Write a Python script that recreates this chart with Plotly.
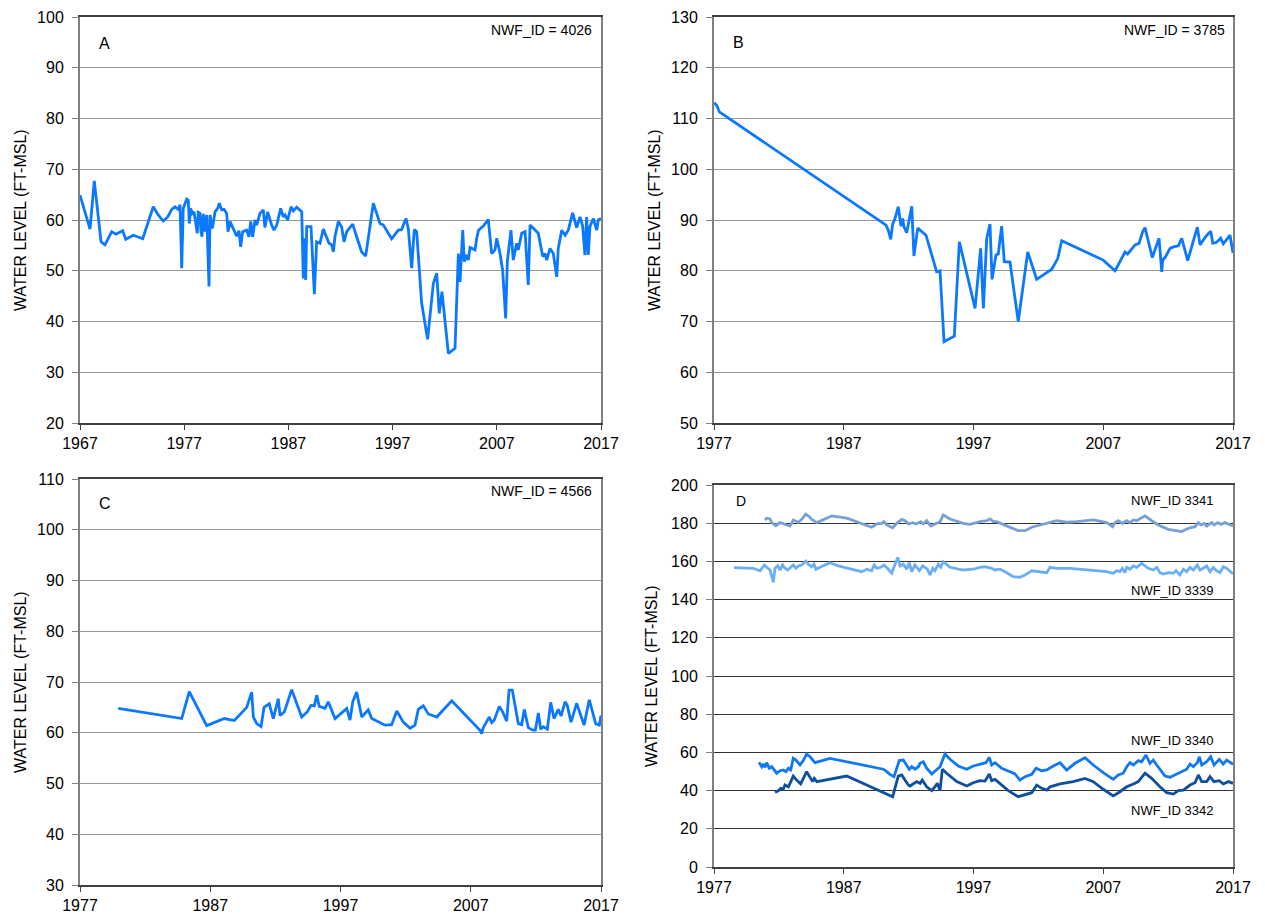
import plotly.graph_objects as go

# ---------------- Panel A (NWF_ID = 4026) ----------------
a_year = [1967.00, 1967.96, 1968.37, 1969.02, 1969.40, 1970.04, 1970.43, 1971.10, 1971.39, 1972.12,
          1973.02, 1973.33, 1974.03, 1974.51, 1974.99, 1975.42, 1975.80, 1976.12, 1976.43, 1976.60,
          1976.76, 1976.91, 1977.24, 1977.39, 1977.49, 1977.62, 1977.78, 1977.94, 1978.26, 1978.35,
          1978.52, 1978.61, 1978.71, 1978.83, 1979.00, 1979.16, 1979.38, 1979.48, 1979.70, 1979.96,
          1980.21, 1980.37, 1980.60, 1980.82, 1981.08, 1981.20, 1981.40, 1981.71, 1982.04, 1982.26,
          1982.42, 1982.61, 1982.99, 1983.22, 1983.38, 1983.57, 1983.80, 1983.96, 1984.27, 1984.59,
          1984.75, 1985.01, 1985.39, 1985.62, 1985.88, 1986.26, 1986.51, 1986.67, 1986.93, 1987.25,
          1987.47, 1987.80, 1988.28, 1988.43, 1988.52, 1988.66, 1988.76, 1989.17, 1989.49, 1989.71,
          1990.03, 1990.35, 1990.68, 1990.90, 1991.16, 1991.31, 1991.47, 1991.79, 1992.11, 1992.34,
          1992.60, 1993.17, 1993.55, 1994.03, 1994.42, 1994.76, 1995.15, 1995.47, 1995.79, 1996.11,
          1996.91, 1997.55, 1997.87, 1998.03, 1998.29, 1998.51, 1998.83, 1999.08, 1999.31, 1999.79,
          2000.36, 2000.91, 2001.23, 2001.48, 2001.74, 2002.35, 2002.99, 2003.31, 2003.47, 2003.73,
          2003.88, 2004.11, 2004.27, 2004.43, 2004.91, 2005.07, 2005.25, 2005.70, 2006.18, 2006.51,
          2006.83, 2006.99, 2007.31, 2007.56, 2007.85, 2008.01, 2008.36, 2008.58, 2008.91, 2009.06,
          2009.39, 2009.71, 2010.02, 2010.19, 2010.35, 2010.67, 2010.98, 2011.41, 2011.63, 2011.79,
          2012.11, 2012.42, 2012.75, 2012.90, 2013.23, 2013.55, 2013.86, 2014.28, 2014.66, 2014.99,
          2015.24, 2015.46, 2015.62, 2015.78, 2015.94, 2016.26, 2016.59, 2016.74, 2017.00]
a_level = [64.9, 58.2, 67.7, 55.7, 55.1, 57.7, 57.2, 57.9, 56.2, 57.0,
           56.3, 58.3, 62.6, 61.0, 59.8, 60.6, 62.1, 62.6, 62.1, 63.0,
           50.5, 62.3, 64.1, 63.9, 59.3, 62.3, 61.3, 61.6, 57.4, 61.5,
           61.3, 57.7, 56.7, 61.2, 57.7, 61.0, 46.9, 61.0, 58.3, 61.6,
           62.3, 63.3, 62.0, 62.1, 61.3, 57.7, 59.7, 58.3, 56.8, 57.9,
           54.7, 57.7, 58.0, 56.7, 59.7, 56.7, 60.0, 59.0, 61.3, 62.0,
           58.5, 61.6, 59.0, 58.0, 59.0, 62.3, 60.6, 61.0, 60.0, 62.6,
           61.8, 62.5, 61.6, 48.5, 56.4, 48.2, 58.7, 58.7, 45.4, 55.7,
           55.4, 58.2, 56.7, 55.4, 55.1, 53.7, 56.7, 59.7, 58.6, 55.7,
           57.7, 59.2, 56.7, 53.7, 52.9, 58.0, 63.3, 61.3, 59.3, 59.0,
           56.3, 58.0, 58.1, 59.0, 60.3, 58.3, 50.5, 58.1, 57.7, 43.6,
           36.5, 47.5, 49.5, 41.6, 45.9, 33.7, 34.7, 53.4, 47.8, 58.0,
           51.8, 53.1, 52.1, 54.6, 54.1, 56.4, 58.0, 58.8, 60.1, 53.4,
           54.1, 56.4, 53.4, 50.1, 40.6, 51.8, 58.0, 52.1, 55.4, 54.1,
           57.4, 57.7, 47.2, 59.0, 58.7, 58.0, 57.4, 52.8, 53.4, 52.1,
           54.4, 53.4, 48.8, 54.4, 58.0, 57.0, 58.0, 61.4, 58.5, 60.6,
           58.8, 53.1, 60.6, 53.1, 58.7, 60.3, 58.0, 60.0, 60.3]

# ---------------- Panel B (NWF_ID = 3785) ----------------
b_year = [1977.00, 1977.21, 1977.41, 1990.26, 1990.43, 1990.62, 1990.77, 1990.95, 1991.20, 1991.41,
          1991.54, 1991.64, 1991.85, 1992.24, 1992.41, 1992.70, 1993.34, 1993.78, 1994.16, 1994.42,
          1994.73, 1995.52, 1995.91, 1997.12, 1997.55, 1997.76, 1998.02, 1998.27, 1998.43, 1998.73,
          1998.91, 1999.17, 1999.37, 1999.81, 2000.45, 2001.18, 2001.87, 2003.03, 2003.49, 2003.80,
          2007.00, 2007.91, 2008.68, 2008.88, 2009.45, 2009.76, 2010.04, 2010.22, 2010.78, 2011.30,
          2011.51, 2011.58, 2011.76, 2012.15, 2012.40, 2012.79, 2013.05, 2013.51, 2013.87, 2014.25,
          2014.46, 2014.92, 2015.28, 2015.44, 2015.74, 2016.05, 2016.25, 2016.77, 2017.00]
b_level = [113.1, 112.6, 111.3, 89.0, 88.0, 86.2, 89.2, 90.3, 92.6, 88.8,
           90.3, 88.7, 87.5, 92.7, 82.9, 88.4, 87.0, 83.4, 79.8, 80.0,
           66.0, 67.1, 85.7, 72.6, 84.4, 72.6, 86.4, 89.2, 78.3, 83.1,
           83.3, 88.8, 81.8, 81.7, 70.0, 83.7, 78.3, 80.3, 82.4, 85.9,
           82.1, 80.0, 83.7, 83.3, 85.1, 85.4, 87.7, 88.5, 82.6, 86.4,
           79.8, 82.1, 82.6, 84.4, 84.7, 84.9, 86.4, 82.0, 85.1, 88.6,
           85.1, 86.8, 87.8, 85.4, 85.6, 86.4, 85.3, 87.0, 83.5]

# ---------------- Panel C (NWF_ID = 4566) ----------------
c_year = [1979.94, 1984.81, 1985.39, 1986.73, 1988.08, 1988.85, 1989.80, 1990.18, 1990.31, 1990.57,
          1990.90, 1991.13, 1991.53, 1991.84, 1992.22, 1992.36, 1992.69, 1993.25, 1994.02, 1994.45,
          1994.74, 1994.99, 1995.17, 1995.37, 1995.81, 1996.06, 1996.58, 1997.48, 1997.73, 1997.94,
          1998.24, 1998.63, 1999.13, 1999.40, 2000.42, 2000.93, 2001.32, 2001.82, 2002.34, 2002.72,
          2002.97, 2003.36, 2003.74, 2004.39, 2005.54, 2007.71, 2007.84, 2007.96, 2008.42, 2008.61,
          2008.81, 2009.19, 2009.45, 2009.76, 2009.94, 2010.19, 2010.65, 2010.91, 2011.11, 2011.42,
          2011.76, 2011.96, 2012.19, 2012.37, 2012.57, 2012.88, 2013.14, 2013.39, 2013.72, 2013.93,
          2014.24, 2014.41, 2014.70, 2015.13, 2015.70, 2016.10, 2016.59, 2016.87, 2017.00]
c_level = [64.8, 62.8, 68.1, 61.4, 62.8, 62.4, 65.0, 68.0, 63.1, 61.8,
           61.2, 65.0, 65.7, 62.8, 66.7, 63.4, 64.1, 68.5, 63.1, 64.1,
           65.4, 65.3, 67.4, 65.2, 64.8, 66.1, 62.8, 64.8, 62.5, 66.1,
           68.0, 63.1, 64.5, 62.8, 61.5, 61.6, 64.3, 62.1, 60.9, 61.5,
           64.6, 65.3, 63.7, 63.1, 66.3, 60.5, 59.8, 61.0, 63.1, 62.0,
           62.5, 65.2, 64.1, 62.3, 68.4, 68.4, 61.8, 61.6, 64.6, 61.0,
           60.5, 60.5, 63.9, 60.7, 61.2, 60.7, 66.0, 62.8, 64.6, 63.3,
           66.1, 65.4, 62.1, 65.8, 61.5, 66.5, 61.8, 61.5, 63.4]

# ---------------- Panel D (four wells) ----------------
d3341_year = [1980.93, 1981.06, 1981.32, 1981.45, 1981.76, 1982.09, 1982.40, 1982.86, 1983.11, 1983.50,
              1983.76, 1984.07, 1984.35, 1984.53, 1984.92, 1985.42, 1986.07, 1987.23, 1988.00, 1988.51,
              1989.15, 1989.54, 1989.92, 1990.10, 1990.31, 1990.77, 1991.08, 1991.47, 1991.72, 1991.98,
              1992.31, 1992.57, 1992.93, 1993.13, 1993.39, 1993.70, 1994.03, 1994.42, 1994.67, 1995.19,
              1996.21, 1996.73, 1997.50, 1998.02, 1998.27, 1998.53, 1998.79, 1999.17, 1999.68, 2000.45,
              2000.97, 2001.49, 2002.13, 2002.64, 2003.41, 2004.18, 2004.95, 2006.23, 2006.75, 2007.27,
              2007.73, 2007.91, 2008.16, 2008.47, 2008.81, 2009.06, 2009.32, 2009.58, 2009.96, 2010.22,
              2010.73, 2011.24, 2012.01, 2013.05, 2013.55, 2014.07, 2014.33, 2014.51, 2014.79, 2014.97,
              2015.36, 2015.56, 2015.82, 2016.08, 2016.38, 2016.64, 2017.00]
d3341_level = [181.7, 182.6, 182.2, 180.3, 178.7, 180.3, 179.6, 178.5, 181.7, 180.5,
               182.0, 184.7, 183.4, 182.0, 180.3, 182.0, 183.8, 182.6, 180.8, 179.4,
               177.9, 179.6, 179.9, 180.8, 179.1, 177.6, 179.9, 182.0, 181.3, 179.6,
               180.3, 179.6, 180.8, 179.6, 181.3, 178.5, 179.6, 180.8, 184.3, 182.2,
               179.9, 179.4, 180.8, 181.3, 182.2, 180.8, 180.8, 179.6, 178.2, 176.1,
               176.1, 177.9, 179.1, 179.9, 181.3, 180.5, 180.8, 181.7, 180.8, 180.3,
               178.2, 180.3, 181.3, 179.9, 181.3, 180.3, 181.7, 181.3, 182.9, 183.8,
               181.3, 179.1, 176.8, 175.6, 177.3, 178.2, 180.3, 179.1, 179.9, 178.5,
               180.3, 179.1, 180.3, 179.4, 180.3, 179.6, 178.5]

d3339_year = [1978.54, 1979.26, 1980.03, 1980.55, 1980.88, 1981.06, 1981.32, 1981.57, 1981.70, 1981.91,
              1982.09, 1982.29, 1982.47, 1982.68, 1982.86, 1983.11, 1983.32, 1983.50, 1983.76, 1984.09,
              1984.27, 1984.53, 1984.71, 1984.86, 1985.17, 1985.56, 1985.94, 1986.58, 1987.48, 1988.38,
              1988.77, 1989.15, 1989.35, 1989.54, 1989.85, 1990.10, 1990.36, 1990.70, 1990.90, 1991.16,
              1991.34, 1991.59, 1991.85, 1992.05, 1992.24, 1992.49, 1992.82, 1993.09, 1993.26, 1993.44,
              1993.65, 1993.86, 1994.03, 1994.29, 1994.47, 1994.67, 1995.19, 1996.21, 1996.98, 1997.50,
              1997.89, 1998.40, 1998.66, 1999.04, 1999.43, 2000.07, 2000.58, 2000.97, 2001.49, 2002.13,
              2002.64, 2002.90, 2003.41, 2004.44, 2005.21, 2006.23, 2007.27, 2007.77, 2008.04, 2008.29,
              2008.47, 2008.68, 2008.81, 2009.06, 2009.32, 2009.58, 2009.96, 2010.22, 2010.47, 2010.86,
              2011.12, 2011.37, 2011.63, 2012.01, 2012.40, 2012.61, 2012.91, 2013.17, 2013.43, 2013.69,
              2013.94, 2014.25, 2014.46, 2014.71, 2014.97, 2015.23, 2015.48, 2015.74, 2016.00, 2016.25,
              2016.51, 2017.00]
d3339_level = [156.7, 156.7, 156.4, 155.1, 158.1, 156.9, 155.5, 149.1, 156.4, 157.7,
               155.5, 158.1, 156.4, 155.5, 156.4, 158.1, 156.4, 157.6, 158.1, 160.2,
               158.5, 157.2, 158.6, 155.9, 156.9, 158.1, 159.3, 157.6, 155.9, 154.6,
               155.9, 155.1, 158.1, 156.4, 156.9, 158.1, 156.4, 153.8, 157.6, 162.1,
               157.6, 158.6, 155.9, 159.3, 154.6, 158.1, 155.1, 157.6, 156.9, 155.9,
               152.9, 156.4, 155.1, 158.6, 156.9, 159.8, 156.9, 155.5, 155.9, 156.9,
               157.2, 156.4, 155.5, 155.9, 154.6, 152.0, 151.7, 152.9, 155.1, 154.6,
               154.1, 156.9, 156.4, 156.4, 155.9, 155.5, 154.6, 153.8, 155.1, 154.6,
               156.4, 154.1, 156.9, 155.9, 157.6, 156.9, 159.0, 157.6, 156.4, 155.5,
               156.9, 154.1, 153.4, 154.1, 153.8, 155.1, 152.9, 155.9, 154.6, 156.9,
               155.5, 158.1, 155.5, 156.4, 157.6, 154.6, 156.9, 155.1, 154.1, 157.2,
               156.4, 153.4]

d3340_year = [1980.47, 1980.68, 1980.80, 1980.93, 1981.06, 1981.26, 1981.45, 1981.62, 1981.83, 1982.09,
              1982.34, 1982.55, 1982.73, 1982.91, 1983.11, 1983.32, 1983.63, 1983.88, 1984.14, 1984.40,
              1984.78, 1985.94, 1988.25, 1990.05, 1990.31, 1990.56, 1990.87, 1991.03, 1991.28, 1991.59,
              1991.85, 1992.05, 1992.24, 1992.49, 1992.75, 1992.88, 1993.13, 1993.39, 1993.78, 1994.16,
              1994.42, 1994.80, 1995.19, 1995.83, 1996.48, 1996.98, 1997.50, 1997.96, 1998.22, 1998.40,
              1998.66, 1999.17, 1999.81, 2000.20, 2000.58, 2000.97, 2001.49, 2001.82, 2002.26, 2002.64,
              2003.15, 2003.67, 2004.18, 2004.82, 2005.59, 2006.23, 2007.00, 2007.77, 2008.16, 2008.54,
              2008.81, 2009.06, 2009.32, 2009.70, 2009.96, 2010.29, 2010.60, 2010.86, 2011.12, 2011.37,
              2011.76, 2012.15, 2012.53, 2012.79, 2013.05, 2013.43, 2013.69, 2013.94, 2014.25, 2014.41,
              2014.59, 2014.97, 2015.28, 2015.54, 2015.94, 2016.25, 2016.51, 2016.77, 2017.00]
d3340_level = [54.8, 52.5, 53.9, 52.2, 54.6, 51.7, 52.5, 50.8, 49.1, 50.4,
               50.8, 49.9, 51.7, 50.8, 56.9, 56.0, 53.4, 55.7, 59.2, 57.7,
               54.6, 56.9, 53.8, 51.2, 49.9, 48.5, 47.3, 50.8, 55.7, 56.0,
               53.4, 51.2, 52.5, 51.2, 52.5, 54.3, 55.1, 51.7, 48.7, 51.2,
               52.5, 59.2, 56.4, 52.9, 51.2, 52.9, 53.8, 54.6, 57.4, 53.4,
               54.6, 51.7, 49.9, 48.7, 45.5, 47.3, 48.5, 51.7, 50.4, 50.8,
               52.9, 54.6, 50.8, 54.3, 57.2, 53.4, 49.4, 45.9, 48.2, 49.1,
               52.5, 54.6, 53.4, 55.7, 55.1, 58.6, 54.3, 56.0, 53.4, 51.2,
               47.6, 47.0, 48.2, 49.1, 49.9, 51.2, 53.9, 52.5, 54.6, 57.7,
               53.4, 55.1, 57.7, 53.4, 56.4, 53.9, 56.0, 54.6, 53.8]

d3342_year = [1981.70, 1981.96, 1982.14, 1982.34, 1982.47, 1982.73, 1982.86, 1983.11, 1983.37, 1983.68,
              1984.14, 1984.40, 1984.60, 1984.73, 1984.92, 1987.23, 1990.77, 1991.20, 1991.47, 1991.72,
              1991.98, 1992.11, 1992.36, 1992.62, 1992.88, 1993.05, 1993.39, 1993.78, 1994.03, 1994.21,
              1994.42, 1994.60, 1994.93, 1995.71, 1996.48, 1996.98, 1997.50, 1997.89, 1998.22, 1998.40,
              1998.66, 1999.04, 1999.68, 2000.45, 2000.97, 2001.49, 2001.87, 2002.26, 2002.64, 2002.90,
              2003.67, 2004.69, 2005.59, 2006.23, 2007.00, 2007.77, 2008.29, 2008.81, 2009.32, 2009.70,
              2010.22, 2010.73, 2011.37, 2011.89, 2012.40, 2012.79, 2013.17, 2013.69, 2014.07, 2014.33,
              2014.59, 2014.97, 2015.23, 2015.54, 2015.94, 2016.25, 2016.64, 2017.00]
d3342_level = [39.1, 39.9, 41.2, 40.7, 42.9, 42.0, 43.8, 47.6, 45.5, 43.5,
               49.9, 47.3, 44.7, 46.4, 44.7, 47.6, 36.8, 47.6, 48.2, 45.5,
               42.9, 42.4, 43.5, 44.7, 43.8, 45.5, 42.0, 40.0, 42.0, 43.8,
               40.0, 51.2, 49.1, 44.7, 42.4, 44.1, 45.2, 45.0, 48.7, 45.2,
               45.9, 43.8, 40.0, 36.8, 37.7, 38.9, 42.9, 41.2, 40.3, 42.0,
               43.5, 44.7, 46.4, 44.7, 40.7, 37.2, 39.4, 42.0, 43.5, 44.7,
               49.1, 46.4, 42.0, 38.9, 38.2, 40.0, 40.3, 42.9, 44.1, 48.2,
               44.7, 44.7, 47.3, 44.7, 45.2, 43.5, 44.7, 43.8]

# ---------------- Axis settings ----------------
x_ticks_a = [1967, 1977, 1987, 1997, 2007, 2017]
x_ticks = [1977, 1987, 1997, 2007, 2017]
y_ticks_a = list(range(20, 101, 10))
y_ticks_b = list(range(50, 131, 10))
y_ticks_c = list(range(30, 111, 10))
y_ticks_d = list(range(0, 201, 20))

LINE = "#0A78FF"
C3341 = "#78A0D4"
C3339 = "#6AAEF4"
C3340 = "#0F78F2"
C3342 = "#0E4F9E"
FONT = "Liberation Sans, Arial, sans-serif"

# page body has an 8px margin; figure is placed at (8, 8)
OFF = 8
W, H = 1257, 910
def px_x(p):
    return (p - OFF) / W
def px_y(p):
    return 1 - (p - OFF) / H

fig = go.Figure()

fig.add_trace(go.Scatter(x=a_year, y=a_level, mode="lines", line=dict(color=LINE, width=2.8),
                         xaxis="x", yaxis="y", showlegend=False))
fig.add_trace(go.Scatter(x=b_year, y=b_level, mode="lines", line=dict(color=LINE, width=2.8),
                         xaxis="x2", yaxis="y2", showlegend=False))
fig.add_trace(go.Scatter(x=c_year, y=c_level, mode="lines", line=dict(color=LINE, width=2.8),
                         xaxis="x3", yaxis="y3", showlegend=False))
for yr, lv, col in [(d3341_year, d3341_level, C3341), (d3339_year, d3339_level, C3339),
                    (d3340_year, d3340_level, C3340), (d3342_year, d3342_level, C3342)]:
    fig.add_trace(go.Scatter(x=yr, y=lv, mode="lines", line=dict(color=col, width=2.8),
                             xaxis="x4", yaxis="y4", showlegend=False))

def xaxis(dom, rng, ticks, anchor):
    return dict(domain=dom, range=rng, tickvals=ticks, ticktext=[str(t) for t in ticks],
                showgrid=False, zeroline=False, showline=True, linecolor="#404040", linewidth=1.5,
                mirror=True, ticks="outside", ticklen=5, tickcolor="#404040", automargin=False,
                tickfont=dict(family=FONT, size=16, color="#000000"), anchor=anchor, fixedrange=True)

def yaxis(dom, rng, ticks, anchor, gridcolor):
    return dict(domain=dom, range=rng, tickvals=ticks, showgrid=True, gridcolor=gridcolor, gridwidth=1.2,
                zeroline=False, showline=True, linecolor="#808080", linewidth=2, mirror=True,
                ticks="outside", ticklen=6, tickcolor="#808080", automargin=False,
                ticklabelstandoff=5,
                tickfont=dict(family=FONT, size=16, color="#000000"), anchor=anchor, fixedrange=True)

xa = [px_x(80), px_x(601)]
xb = [px_x(714), px_x(1233)]
ya = [px_y(423), px_y(17)]
yc = [px_y(885), px_y(479)]
yd = [px_y(867), px_y(485)]

fig.update_layout(
    width=W, height=H, autosize=False, margin=dict(l=0, r=0, t=0, b=0, pad=0),
    paper_bgcolor="white", plot_bgcolor="white",
    xaxis=xaxis(xa, [1967, 2017], x_ticks_a, "y"),
    yaxis=yaxis(ya, [20, 100], y_ticks_a, "x", "#999999"),
    xaxis2=xaxis(xb, [1977, 2017], x_ticks, "y2"),
    yaxis2=yaxis(ya, [50, 130], y_ticks_b, "x2", "#999999"),
    xaxis3=xaxis(xa, [1977, 2017], x_ticks, "y3"),
    yaxis3=yaxis(yc, [30, 110], y_ticks_c, "x3", "#999999"),
    xaxis4=xaxis(xb, [1977, 2017], x_ticks, "y4"),
    yaxis4=yaxis(yd, [0, 200], y_ticks_d, "x4", "#333333"),
)

ann = []
def txt(x, y, s, size=13, xanchor="left", angle=0):
    ann.append(dict(x=x, y=y, xref="paper", yref="paper", text=s, showarrow=False,
                    xanchor=xanchor, yanchor="middle", textangle=angle,
                    font=dict(family=FONT, size=size, color="#000000")))

# y-axis titles
for xp, y0, y1 in [(20, 17, 423), (654, 17, 423), (20, 479, 885), (651, 485, 867)]:
    txt(px_x(xp), px_y((y0 + y1) / 2), "WATER LEVEL (FT-MSL)", size=16, xanchor="center", angle=-90)

txt(px_x(97), px_y(44), "A", size=16)
txt(px_x(594), px_y(30), "NWF_ID = 4026", size=14, xanchor="right")
txt(px_x(731), px_y(43), "B", size=16)
txt(px_x(1227), px_y(30), "NWF_ID = 3785", size=14, xanchor="right")
txt(px_x(97), px_y(504), "C", size=16)
txt(px_x(594), px_y(491), "NWF_ID = 4566", size=14, xanchor="right")
txt(px_x(734), px_y(501), "D", size=14)
txt(px_x(1215), px_y(501), "NWF_ID 3341", size=13, xanchor="right")
txt(px_x(1215), px_y(590), "NWF_ID 3339", size=13, xanchor="right")
txt(px_x(1215), px_y(740), "NWF_ID 3340", size=13, xanchor="right")
txt(px_x(1215), px_y(810), "NWF_ID 3342", size=13, xanchor="right")

fig.update_layout(annotations=ann)

fig.write_html("out.html", config={"responsive": False})
